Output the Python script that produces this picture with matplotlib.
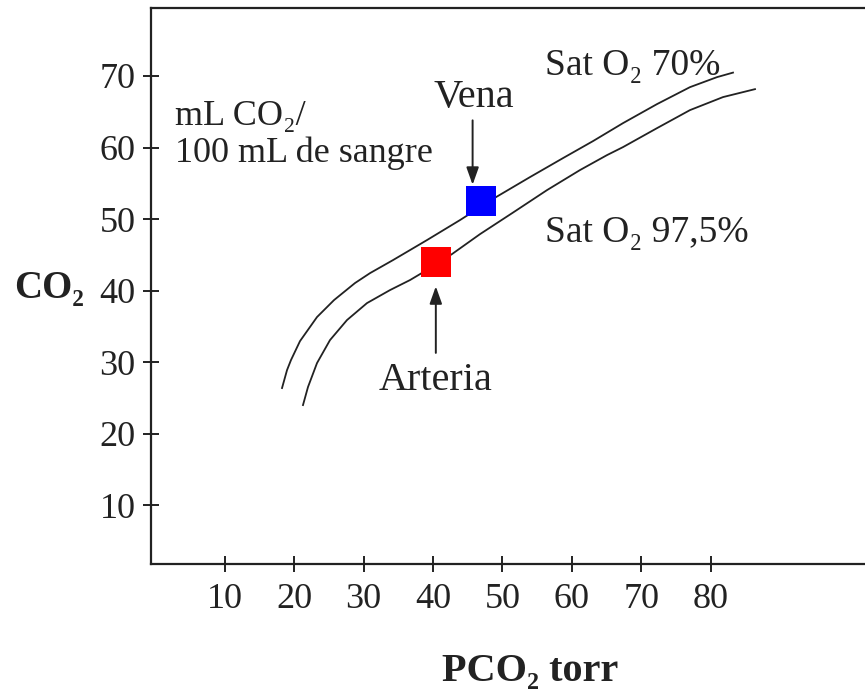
import matplotlib
matplotlib.use("Agg")
import matplotlib.pyplot as plt

# PCO2 (torr) vs CO2 content (mL CO2 / 100 mL de sangre)
pco2_sat70 = [18.24, 18.96, 19.53, 20.83, 23.28, 25.73, 28.75, 30.92, 34.23, 39.13, 43.88,
              49.07, 53.97, 58.72, 63.05, 67.37, 72.27, 77.02, 80.92, 83.22]
co2_sat70 = [26.39, 28.90, 30.30, 32.95, 36.31, 38.68, 41.06, 42.45, 44.27, 47.07, 49.86,
             53.07, 55.87, 58.52, 60.90, 63.41, 66.07, 68.44, 69.84, 70.47]

pco2_sat975 = [21.26, 21.98, 23.28, 25.15, 27.60, 30.48, 33.80, 36.68, 38.26, 42.73, 46.77,
               51.52, 56.42, 61.17, 65.06, 67.37, 72.27, 77.02, 81.78, 86.39]
co2_sat975 = [24.01, 26.53, 29.88, 33.09, 35.89, 38.26, 40.08, 41.48, 42.39, 45.11, 47.90,
              50.91, 54.05, 56.85, 58.94, 60.06, 62.71, 65.23, 67.05, 68.16]

vena = (46.9, 52.5)
arteria = (40.4, 44.0)

x_ticks = [10, 20, 30, 40, 50, 60, 70, 80]
y_ticks = [10, 20, 30, 40, 50, 60, 70]

INK = "#222222"

plt.rcParams["font.family"] = ["Liberation Serif", "DejaVu Serif"]

fig = plt.figure(figsize=(8.65, 6.91), dpi=100)
ax = fig.add_axes([151 / 865, 127 / 691, 714 / 865, 556 / 691])

ax.plot(pco2_sat70, co2_sat70, color=INK, lw=1.3)
ax.plot(pco2_sat975, co2_sat975, color=INK, lw=1.3)

ax.plot(*vena, marker="s", markersize=21.5, color="#0000ff", markeredgewidth=0, zorder=3)
ax.plot(*arteria, marker="s", markersize=21.5, color="#ff0000", markeredgewidth=0, zorder=3)

arrow = dict(arrowstyle="-|>,head_length=0.7,head_width=0.25", color=INK, lw=1.4,
             mutation_scale=15, shrinkA=0, shrinkB=0)
ax.annotate("", xy=(45.7, 54.8), xytext=(45.7, 63.8), arrowprops=arrow)
ax.annotate("", xy=(40.4, 40.6), xytext=(40.4, 31.3), arrowprops=arrow)

ax.text(45.9, 65.6, "Vena", fontsize=29, ha="center", va="baseline", color=INK)
ax.text(40.3, 26.1, "Arteria", fontsize=29, ha="center", va="baseline", color=INK)
ax.text(56.1, 70.1, "Sat O₂ 70%", fontsize=27, ha="left", va="baseline", color=INK)
ax.text(56.1, 46.8, "Sat O₂ 97,5%", fontsize=27, ha="left", va="baseline", color=INK)
ax.text(2.8, 63.1, "mL CO₂/", fontsize=26, ha="left", va="baseline", color=INK)
ax.text(2.8, 58.0, "100 mL de sangre", fontsize=26, ha="left", va="baseline", color=INK)

ax.set_xlim(-0.64, 102.24)
ax.set_ylim(1.8, 79.5)
ax.set_xticks(x_ticks)
ax.set_yticks(y_ticks)
ax.tick_params(direction="inout", length=12, width=1.4, colors=INK, labelsize=26)
ax.tick_params(axis="x", pad=8)
ax.tick_params(axis="y", pad=5)

ax.spines["right"].set_visible(False)
for side in ("left", "bottom", "top"):
    ax.spines[side].set_linewidth(1.6)
    ax.spines[side].set_color(INK)

ax.set_ylabel("CO₂", fontsize=28, fontweight="bold", rotation=0, ha="left", va="baseline", color=INK)
ax.yaxis.set_label_coords(-0.192, 0.478)
ax.set_xlabel("PCO₂ torr", fontsize=29, fontweight="bold", ha="center", va="baseline", color=INK)
ax.xaxis.set_label_coords(0.531, -0.211)

fig.savefig("out.png", dpi=100)
